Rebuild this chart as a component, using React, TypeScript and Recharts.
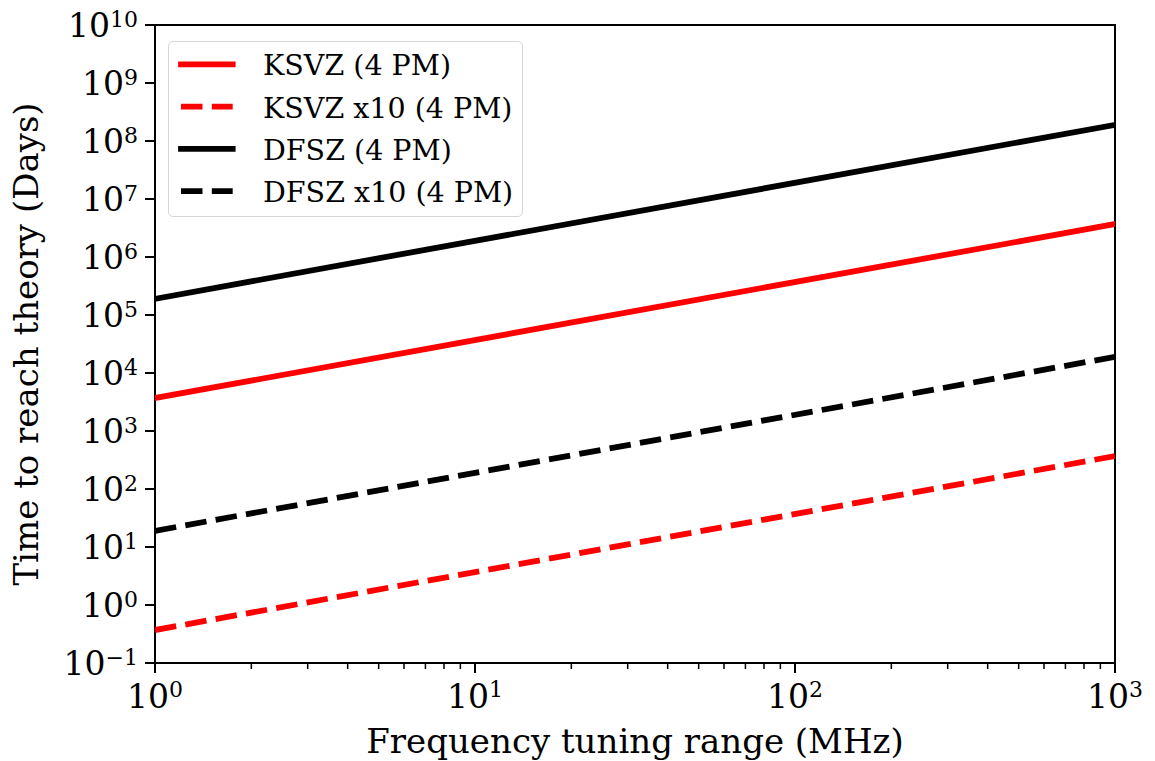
import { Legend, Line, LineChart, ReferenceArea, XAxis, YAxis } from "recharts";

// Tuning range in MHz (end points of each straight log-log line)
const freqMHz = [1, 1000];

// Time to reach theory, in days
const ksvz = [3.7e3, 3.7e6];
const ksvzX10 = [0.37, 370];
const dfsz = [1.9e5, 1.9e8];
const dfszX10 = [19, 1.9e4];

const xMajorTicks = [1, 10, 100, 1000];
const xMinorTicks = [
  2, 3, 4, 5, 6, 7, 8, 9,
  20, 30, 40, 50, 60, 70, 80, 90,
  200, 300, 400, 500, 600, 700, 800, 900,
];
const yTicks = [0.1, 1, 10, 100, 1e3, 1e4, 1e5, 1e6, 1e7, 1e8, 1e9, 1e10];

const FONT = "DejaVu Serif";
const LW = 5.8;
const DASH = "21.5 9.3";

const series = [
  { key: "ksvz", name: "KSVZ (4 PM)", color: "#ff0000", dashed: false },
  { key: "ksvzX10", name: "KSVZ x10 (4 PM)", color: "#ff0000", dashed: true },
  { key: "dfsz", name: "DFSZ (4 PM)", color: "#000000", dashed: false },
  { key: "dfszX10", name: "DFSZ x10 (4 PM)", color: "#000000", dashed: true },
];

const data = freqMHz.map((f, i) => ({
  f,
  ksvz: ksvz[i],
  ksvzX10: ksvzX10[i],
  dfsz: dfsz[i],
  dfszX10: dfszX10[i],
}));

const isMajor = (v: number) => {
  const l = Math.log10(v);
  return Math.abs(l - Math.round(l)) < 1e-9;
};

const expText = (v: number) => {
  const e = Math.round(Math.log10(v));
  return e < 0 ? `\u2212${-e}` : `${e}`;
};

function XTick(props: any) {
  const { x, y, payload } = props;
  const major = isMajor(payload.value);
  return (
    <g>
      <line
        x1={x}
        x2={x}
        y1={y}
        y2={y + (major ? 10 : 6)}
        stroke="#000"
        strokeWidth={major ? 2 : 1.5}
      />
      {major && (
        <text x={x} y={y + 45} textAnchor="middle" fontFamily={FONT} fontSize={33} fill="#000">
          10
          <tspan dy={-11} fontSize={22}>
            {expText(payload.value)}
          </tspan>
        </text>
      )}
    </g>
  );
}

function YTick(props: any) {
  const { x, y, payload } = props;
  return (
    <g>
      <line x1={x - 10} x2={x} y1={y} y2={y} stroke="#000" strokeWidth={2} />
      <text x={x - 17} y={y + 12.3} textAnchor="end" fontFamily={FONT} fontSize={33} fill="#000">
        10
        <tspan dy={-10} fontSize={22}>
          {expText(payload.value)}
        </tspan>
      </text>
    </g>
  );
}

function LegendBox() {
  return (
    <svg width={355} height={176} style={{ display: "block" }}>
      {series.map((s, i) => {
        const cy = 22.3 + i * 42.3;
        return (
          <g key={s.key}>
            {s.dashed ? (
              <line
                x1={12}
                x2={63.7}
                y1={cy}
                y2={cy}
                stroke={s.color}
                strokeWidth={LW}
                strokeDasharray={DASH}
              />
            ) : (
              <line
                x1={12}
                x2={63.7}
                y1={cy}
                y2={cy}
                stroke={s.color}
                strokeWidth={LW}
                strokeLinecap="square"
              />
            )}
            <text x={94} y={cy + 11} fontFamily={FONT} fontSize={28.5} fill="#000">
              {s.name}
            </text>
          </g>
        );
      })}
    </svg>
  );
}

export default function App() {
  return (
    <div style={{ position: "absolute", left: 0, top: 0, background: "#fff" }}>
      <LineChart width={1155} height={761} data={data} margin={{ top: 25, right: 40, left: 0, bottom: 0 }}>
        <XAxis
          dataKey="f"
          type="number"
          scale="log"
          domain={[1, 1000]}
          allowDataOverflow
          ticks={[...xMajorTicks, ...xMinorTicks]}
          interval={0}
          height={98}
          axisLine={false}
          tickLine={false}
          tickSize={0}
          tickMargin={0}
          tick={<XTick />}
          label={{
            value: "Frequency tuning range (MHz)",
            position: "insideBottom",
            offset: 8,
            fill: "#000",
            fontSize: 34,
            fontFamily: FONT,
          }}
        />
        <YAxis
          type="number"
          scale="log"
          domain={[0.1, 1e10]}
          allowDataOverflow
          ticks={yTicks}
          interval={0}
          width={155}
          axisLine={false}
          tickLine={false}
          tickSize={0}
          tickMargin={0}
          tick={<YTick />}
          label={{
            value: "Time to reach theory (Days)",
            position: "insideLeft",
            angle: -90,
            offset: 25.9,
            fill: "#000",
            fontSize: 34,
            fontFamily: FONT,
            style: { textAnchor: "middle" },
          }}
        />
        {series.map((s) => (
          <Line
            key={s.key}
            dataKey={s.key}
            name={s.name}
            type="linear"
            stroke={s.color}
            strokeWidth={LW}
            strokeDasharray={s.dashed ? DASH : undefined}
            strokeLinecap={s.dashed ? "butt" : "square"}
            dot={false}
            activeDot={false}
            isAnimationActive={false}
          />
        ))}
        <ReferenceArea
          x1={1}
          x2={1000}
          y1={0.1}
          y2={1e10}
          fill="none"
          stroke="#000"
          strokeWidth={2}
          ifOverflow="visible"
        />
        <Legend
          layout="vertical"
          align="center"
          verticalAlign="middle"
          content={() => <LegendBox />}
          wrapperStyle={{
            left: 168,
            top: 41,
            width: 355,
            height: 176,
            border: "1.5px solid #d6d6d6",
            borderRadius: 5,
            background: "rgba(255,255,255,0.8)",
            boxSizing: "border-box",
            overflow: "hidden",
          }}
        />
      </LineChart>
    </div>
  );
}
